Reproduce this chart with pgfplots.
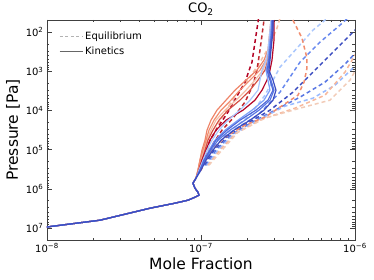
\documentclass[border=0pt]{standalone}
\usepackage{fontspec}
\setmainfont{DejaVu Sans}
\usepackage{pgfplots}
\usepackage{pgfplotstable}
\pgfplotsset{compat=1.18}
\definecolor{cA}{HTML}{3B4CC0}
\definecolor{cB}{HTML}{4F69D9}
\definecolor{cC}{HTML}{5977E3}
\definecolor{cD}{HTML}{6788EE}
\definecolor{cE}{HTML}{7B9FF9}
\definecolor{cF}{HTML}{9ABBFF}
\definecolor{cG}{HTML}{AAC7FD}
\definecolor{cH}{HTML}{F2CBB7}
\definecolor{cI}{HTML}{F5C0A7}
\definecolor{cJ}{HTML}{F7B89C}
\definecolor{cK}{HTML}{F18D6F}
\definecolor{cL}{HTML}{EE8468}
\definecolor{cM}{HTML}{D65244}
\definecolor{cN}{HTML}{C0282F}
\definecolor{cO}{HTML}{B40426}
\pgfplotstableread{
P k1 k2 k3 k4 k5 k6 k7 k8 k9 k10
49.4 2.891e-7 2.891e-7 2.935e-7 2.979e-7 2.848e-7 2.891e-7 2.935e-7 2.935e-7 2.891e-7 2.848e-7
88.9 2.848e-7 2.848e-7 2.891e-7 2.979e-7 2.806e-7 2.848e-7 2.891e-7 2.935e-7 2.891e-7 2.806e-7
160 2.806e-7 2.806e-7 2.848e-7 2.979e-7 2.764e-7 2.806e-7 2.848e-7 2.891e-7 2.848e-7 2.764e-7
288 2.764e-7 2.764e-7 2.806e-7 2.935e-7 2.723e-7 2.764e-7 2.806e-7 2.848e-7 2.806e-7 2.723e-7
518 2.643e-7 2.683e-7 2.723e-7 2.891e-7 2.643e-7 2.723e-7 2.764e-7 2.806e-7 2.764e-7 2.565e-7
931 2.416e-7 2.527e-7 2.604e-7 2.806e-7 2.490e-7 2.643e-7 2.723e-7 2.764e-7 2.683e-7 2.310e-7
1675 2.081e-7 2.242e-7 2.345e-7 2.683e-7 2.416e-7 2.723e-7 2.848e-7 2.935e-7 2.806e-7 1.960e-7
3020 1.791e-7 1.960e-7 2.081e-7 2.490e-7 2.345e-7 2.806e-7 2.979e-7 3.069e-7 2.935e-7 1.663e-7
5430 1.566e-7 1.688e-7 1.791e-7 2.242e-7 2.081e-7 2.565e-7 2.806e-7 2.935e-7 2.723e-7 1.453e-7
9770 1.349e-7 1.432e-7 1.497e-7 1.874e-7 1.791e-7 2.144e-7 2.380e-7 2.565e-7 2.276e-7 1.270e-7
1.76e4 1.214e-7 1.251e-7 1.309e-7 1.453e-7 1.497e-7 1.739e-7 1.931e-7 2.081e-7 1.791e-7 1.161e-7
3.16e4 1.127e-7 1.161e-7 1.196e-7 1.251e-7 1.309e-7 1.432e-7 1.543e-7 1.638e-7 1.475e-7 1.094e-7
5.69e4 1.078e-7 1.094e-7 1.110e-7 1.144e-7 1.179e-7 1.233e-7 1.289e-7 1.349e-7 1.251e-7 1.062e-7
1.02e5 1.030e-7 1.046e-7 1.062e-7 1.078e-7 1.094e-7 1.127e-7 1.161e-7 1.196e-7 1.144e-7 1.015e-7
1.84e5 0.985e-7 1.000e-7 1.015e-7 1.015e-7 1.030e-7 1.046e-7 1.062e-7 1.078e-7 1.046e-7 0.985e-7
3.31e5 0.956e-7 0.956e-7 0.970e-7 0.970e-7 0.970e-7 0.985e-7 0.985e-7 1.000e-7 0.985e-7 0.956e-7
5.30e5 0.928e-7 0.928e-7 0.928e-7 0.928e-7 0.928e-7 0.928e-7 0.928e-7 0.928e-7 0.928e-7 0.928e-7
7.11e5 0.887e-7 0.887e-7 0.887e-7 0.887e-7 0.887e-7 0.887e-7 0.887e-7 0.887e-7 0.887e-7 0.887e-7
9.55e5 0.914e-7 0.914e-7 0.914e-7 0.914e-7 0.914e-7 0.914e-7 0.914e-7 0.914e-7 0.914e-7 0.914e-7
1.21e6 0.956e-7 0.956e-7 0.956e-7 0.956e-7 0.956e-7 0.956e-7 0.956e-7 0.956e-7 0.956e-7 0.956e-7
1.44e6 0.970e-7 0.970e-7 0.970e-7 0.970e-7 0.970e-7 0.970e-7 0.970e-7 0.970e-7 0.970e-7 0.970e-7
1.62e6 0.914e-7 0.914e-7 0.914e-7 0.914e-7 0.914e-7 0.914e-7 0.914e-7 0.914e-7 0.914e-7 0.914e-7
1.93e6 0.824e-7 0.824e-7 0.824e-7 0.824e-7 0.824e-7 0.824e-7 0.824e-7 0.824e-7 0.824e-7 0.824e-7
2.30e6 0.678e-7 0.678e-7 0.678e-7 0.678e-7 0.678e-7 0.678e-7 0.678e-7 0.678e-7 0.678e-7 0.678e-7
3.09e6 0.467e-7 0.467e-7 0.467e-7 0.467e-7 0.467e-7 0.467e-7 0.467e-7 0.467e-7 0.467e-7 0.467e-7
6.25e6 0.221e-7 0.221e-7 0.221e-7 0.221e-7 0.221e-7 0.221e-7 0.221e-7 0.221e-7 0.221e-7 0.221e-7
9.3e6 0.100e-7 0.100e-7 0.100e-7 0.100e-7 0.100e-7 0.100e-7 0.100e-7 0.100e-7 0.100e-7 0.100e-7
1.0e7 0.090e-7 0.090e-7 0.090e-7 0.090e-7 0.090e-7 0.090e-7 0.090e-7 0.090e-7 0.090e-7 0.090e-7
}\kin
\begin{document}
\begin{tikzpicture}
\begin{axis}[
  scale only axis, width=308pt, height=220pt,
  xmode=log, ymode=log, y dir=reverse,
  xmin=1e-8, xmax=1e-6, ymin=49, ymax=2e7,
  xtick={1e-8,1e-7,1e-6},
  xticklabels={10\textsuperscript{−8},10\textsuperscript{−7},10\textsuperscript{−6}},
  ytick={1e2,1e3,1e4,1e5,1e6,1e7},
  yticklabels={10\textsuperscript{2},10\textsuperscript{3},10\textsuperscript{4},10\textsuperscript{5},10\textsuperscript{6},10\textsuperscript{7}},
  tick label style={font=\fontsize{10}{12}\selectfont},
  xlabel={Mole Fraction}, ylabel={Pressure [Pa]},
  label style={font=\fontsize{15.5}{18}\selectfont},
  xlabel style={yshift=2pt},
  ylabel style={yshift=-1pt},
  title={CO\textsubscript{2}},
  title style={font=\fontsize{13}{15}\selectfont, at={(0.5,1)}, anchor=south, yshift=-5pt},
  axis line style={black!75, line width=0.8pt},
  tick style={black!75, line width=0.6pt},
  major tick length=5pt, minor tick length=2.5pt,
  legend style={at={(0.03,0.965)}, anchor=north west, draw=none, fill=none,
    font=\fontsize{10}{12}\selectfont, row sep=2pt},
  legend cell align=left,
  legend image code/.code={\draw[#1] (0cm,0cm) -- (0.5cm,0cm); \path (0cm,0cm) -- (0.8cm,0cm);},
  eq/.style={line width=1.5pt, dash pattern=on 4pt off 3pt, forget plot},
  kn/.style={line width=1.2pt, forget plot},
]
\addlegendimage{line width=1pt, color=black!30, dash pattern=on 3pt off 2.5pt}
\addlegendentry{Equilibrium}
\addlegendimage{line width=1pt, color=black!60}
\addlegendentry{Kinetics}
% equilibrium (dashed)
\addplot[eq, cG] coordinates {(1.030e-7,2.47e5) (1.144e-7,1.02e5) (1.328e-7,5.06e4) (1.663e-7,2.65e4) (2.081e-7,1.31e4) (2.604e-7,4050) (3.258e-7,781) (4.20e-7,256) (5.337e-7,88.9) (6.386e-7,49.4) (6.9e-7,38)};
\addplot[eq, cD] coordinates {(1.046e-7,2.47e5) (1.179e-7,1.02e5) (1.411e-7,4.77e4) (1.791e-7,2.50e4) (2.345e-7,1.31e4) (3.258e-7,3396) (4.395e-7,582) (5.925e-7,180) (7.991e-7,66.3) (9.28e-7,39.1)};
\addplot[eq, cA] coordinates {(1.062e-7,2.47e5) (1.214e-7,1.02e5) (1.497e-7,4.50e4) (1.960e-7,2.22e4) (2.806e-7,9770) (3.957e-7,3396) (5.337e-7,1047) (7.196e-7,324) (9.705e-7,100) (11.61e-7,49.4)};
\addplot[eq, cC] coordinates {(1.078e-7,2.47e5) (1.251e-7,1.02e5) (1.566e-7,4.24e4) (2.144e-7,1.98e4) (3.024e-7,9770) (4.395e-7,4550) (6.386e-7,1887) (8.612e-7,655) (10.78e-7,256)};
\addplot[eq, cF] coordinates {(1.094e-7,2.47e5) (1.289e-7,1.02e5) (1.638e-7,4.00e4) (2.345e-7,1.76e4) (3.511e-7,7720) (5.337e-7,4830) (7.417e-7,2250) (10.0e-7,737) (11.61e-7,386)};
\addplot[eq, cJ] coordinates {(1.110e-7,2.47e5) (1.328e-7,1.02e5) (1.688e-7,3.77e4) (2.490e-7,1.66e4) (4.077e-7,8690) (6.386e-7,4050) (8.612e-7,1047) (10.46e-7,288)};
\addplot[eq, cH] coordinates {(1.127e-7,2.47e5) (1.369e-7,1.02e5) (1.739e-7,3.56e4) (2.604e-7,1.56e4) (4.395e-7,8690) (6.882e-7,5430) (9.28e-7,1675) (10.78e-7,582)};
\addplot[eq, cK] coordinates {(1.030e-7,2.47e5) (1.179e-7,1.02e5) (1.432e-7,4.77e4) (1.931e-7,2.36e4) (2.604e-7,1.47e4) (3.407e-7,7280) (4.264e-7,4050) (4.667e-7,1887) (4.879e-7,828) (4.879e-7,460) (4.527e-7,142) (3.957e-7,49.4) (3.784e-7,36.8)};
\addplot[eq, cI] coordinates {(1.000e-7,3.31e5) (1.078e-7,1.37e5) (1.161e-7,5.69e4) (1.289e-7,2.36e4) (1.453e-7,9770) (1.688e-7,4050) (2.020e-7,1675) (2.416e-7,582) (2.806e-7,215) (3.116e-7,79.0) (3.258e-7,44.0)};
\addplot[eq, cO] coordinates {(0.985e-7,3.31e5) (1.062e-7,1.37e5) (1.144e-7,5.69e4) (1.289e-7,2.65e4) (1.497e-7,1.10e4) (1.713e-7,4295) (1.931e-7,1887) (2.144e-7,582) (2.242e-7,180) (2.345e-7,55.6) (2.380e-7,36.8)};
\addplot[eq, cN] coordinates {(1.000e-7,3.31e5) (1.094e-7,1.37e5) (1.214e-7,6.40e4) (1.369e-7,3.16e4) (1.614e-7,1.56e4) (1.931e-7,6110) (2.176e-7,2250) (2.310e-7,931) (2.416e-7,288) (2.490e-7,119) (2.565e-7,49.4) (2.604e-7,36.8)};
% kinetics (solid)
\addplot[kn, cI] table[x=k2, y=P] {\kin};
\addplot[kn, cL] table[x=k10, y=P] {\kin};
\addplot[kn, cK] table[x=k1, y=P] {\kin};
\addplot[kn, cM] table[x=k3, y=P] {\kin};
\addplot[kn, cO] table[x=k4, y=P] {\kin};
\addplot[kn, cG] table[x=k5, y=P] {\kin};
\addplot[kn, cE] table[x=k6, y=P] {\kin};
\addplot[kn, cC] table[x=k7, y=P] {\kin};
\addplot[kn, cB] table[x=k9, y=P] {\kin};
\addplot[kn, cA] table[x=k8, y=P] {\kin};
\coordinate (sw) at (axis description cs:0,0);
\coordinate (ne) at (axis description cs:1,1);
\end{axis}
\pgfresetboundingbox
\useasboundingbox ([shift={(-47pt,-40pt)}]sw) rectangle ([shift={(19pt,20pt)}]ne);
\end{tikzpicture}
\end{document}
